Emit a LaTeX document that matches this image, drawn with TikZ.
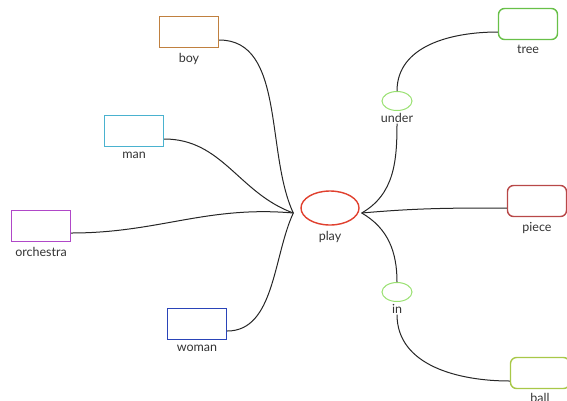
\documentclass[tikz,border=0pt]{standalone}
\usepackage{fontspec}
\setmainfont{Lato}
\usetikzlibrary{positioning,shapes.geometric}
\definecolor{cboy}{HTML}{C0803F}
\definecolor{cman}{HTML}{4AB2CF}
\definecolor{corch}{HTML}{B048C8}
\definecolor{cwoman}{HTML}{2A44B8}
\definecolor{cplay}{HTML}{E0402E}
\definecolor{cprep}{HTML}{98E070}
\definecolor{ctree}{HTML}{68C048}
\definecolor{cpiece}{HTML}{B84848}
\definecolor{cball}{HTML}{A8C848}
\tikzset{
  word/.style={draw, line width=1.4pt, minimum width=59pt, minimum height=31pt, inner sep=0pt},
  rword/.style={word, rounded corners=6pt},
  prep/.style={draw=cprep, ellipse, line width=1pt, minimum width=30pt, minimum height=19pt, inner sep=0pt},
  lbl/.style={font=\fontsize{12.5}{13}\selectfont, text=black!80, inner sep=1pt},
  link/.style={black!85, line width=1pt}
}
\begin{document}
\begin{tikzpicture}[x=1pt,y=-1pt]
\useasboundingbox (0,0) rectangle (567,400);
% left side
\node[word, draw=cboy] (boy) at (189,32) {};
\node[lbl, below=4pt of boy] (boylbl) {boy};
\node[word, draw=cman] (man) at (134,131) {};
\node[lbl, below=4pt of man] (manlbl) {man};
\node[word, draw=corch] (orchestra) at (41,226) {};
\node[lbl, below=4pt of orchestra] (orchestralbl) {orchestra};
\node[word, draw=cwoman] (woman) at (197,324) {};
\node[lbl, below=4pt of woman] (womanlbl) {woman};
% centre
\node[draw=cplay, ellipse, line width=1.4pt, minimum width=58pt, minimum height=34pt, inner sep=0pt] (play) at (330,208) {};
\node[lbl, below=4pt of play] (playlbl) {play};
\coordinate (playin) at ([xshift=-7pt,yshift=-5pt]play.west);
\coordinate (playout) at ([xshift=2pt,yshift=-5pt]play.east);
% right side
\node[prep] (under) at (397,101) {};
\node[lbl, below=1pt of under] (underlbl) {under};
\node[rword, draw=ctree] (tree) at (528,24) {};
\node[lbl, below=4pt of tree] (treelbl) {tree};
\node[rword, draw=cpiece] (piece) at (537,201) {};
\node[lbl, below=4pt of piece] (piecelbl) {piece};
\node[prep] (prepin) at (397,292) {};
\node[lbl, below=1pt of prepin] (prepinlbl) {in};
\node[rword, draw=cball] (ball) at (540,373) {};
\node[lbl, below=3pt of ball] (balllbl) {ball};
% links
\draw[link] ([yshift=-8pt]boy.east) to[out=0,in=115,looseness=0.9] (playin);
\draw[link] ([yshift=-8pt]man.east) to[out=0,in=160] (playin);
\draw[link] ([yshift=-7pt]orchestra.east) to[out=0,in=175] (playin);
\draw[link] ([yshift=-7pt]woman.east) to[out=0,in=245,looseness=0.9] (playin);
\draw[link] (playout) to[out=30,in=-90] (underlbl.south);
\draw[link] (under.north) to[out=90,in=180] ([yshift=-8pt]tree.west);
\draw[link] (playout) to[out=5,in=180] ([yshift=-7pt]piece.west);
\draw[link] (playout) to[out=-30,in=90] (prepin.north);
\draw[link] (prepinlbl.south) to[out=-90,in=180] ([yshift=-8pt]ball.west);
\end{tikzpicture}
\end{document}
